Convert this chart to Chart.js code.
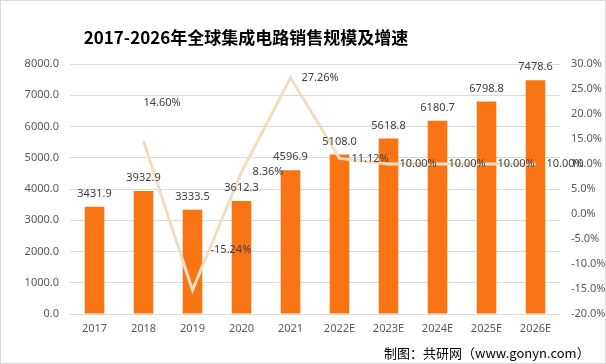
<!DOCTYPE html>
<html>
<head>
<meta charset="utf-8">
<script src="https://cdn.jsdelivr.net/npm/chart.js@4/dist/chart.umd.min.js"></script>
<style>
  html, body { margin: 0; padding: 0; background: #fff; }
  #wrap { position: relative; width: 606px; height: 364px; box-sizing: border-box; border: 1px solid #d9d9d9; }
  #myChart { position: absolute; left: 0; top: 0; }
  #title { position: absolute; left: 0; top: 23px; width: 490px; text-align: center;
    font: bold 17px "Noto Sans CJK SC", sans-serif; color: #000; }
  #source { position: absolute; left: 383px; top: 342px;
    font: 13px "Noto Sans CJK SC", sans-serif; color: #000; }
</style>
</head>
<body>
<div id="wrap">
  <canvas id="myChart" width="606" height="364"></canvas>
  <div id="title">2017-2026年全球集成电路销售规模及增速</div>
  <div id="source">制图：共研网（www.gonyn.com）</div>
</div>
<script>
// data set
var years = ["2017", "2018", "2019", "2020", "2021", "2022E", "2023E", "2024E", "2025E", "2026E"];
var sales = [3431.9, 3932.9, 3333.5, 3612.3, 4596.9, 5108.0, 5618.8, 6180.7, 6798.8, 7478.6];
var growth = [null, 14.60, -15.24, 8.36, 27.26, 11.12, 10.00, 10.00, 10.00, 10.00];

// growth label nudges (x, y) relative to the point
const growthOffsets = [[0, 0], [0, -38], [18, -40], [11, 0], [11, 0], [12, 0], [11, 0], [11, 0], [11, 0], [11, 0]];

const labelPlugin = {
  id: "labels",
  afterDatasetsDraw(chart) {
    const ctx = chart.ctx;
    ctx.save();
    ctx.font = "11px 'Noto Sans', sans-serif";
    ctx.fillStyle = "#404040";
    ctx.textBaseline = "middle";

    const bars = chart.getDatasetMeta(1).data;
    ctx.textAlign = "center";
    bars.forEach((bar, i) => {
      ctx.fillText(sales[i].toFixed(1), bar.x, bar.y - 13);
    });

    const pts = chart.getDatasetMeta(0).data;
    ctx.textAlign = "left";
    pts.forEach((pt, i) => {
      if (growth[i] === null) return;
      const off = growthOffsets[i];
      ctx.fillText(growth[i].toFixed(2) + "%", pt.x + off[0], pt.y + off[1]);
    });
    ctx.restore();
  }
};

new Chart("myChart", {
  type: "bar",
  data: {
    labels: years,
    datasets: [{
      type: "line",
      data: growth,
      yAxisID: "y1",
      borderColor: "#eedfc4",
      borderWidth: 3,
      pointRadius: 0,
      tension: 0,
      fill: false,
      order: 0
    }, {
      type: "bar",
      data: sales,
      yAxisID: "y",
      backgroundColor: "#f97514",
      categoryPercentage: 1,
      barPercentage: 0.4,
      order: 1
    }]
  },
  options: {
    responsive: false,
    animation: false,
    layout: { padding: { top: 63, left: 0, right: 0, bottom: 0 } },
    plugins: {
      legend: { display: false },
      tooltip: { enabled: false }
    },
    scales: {
      x: {
        grid: { display: false, drawTicks: false },
        border: { display: false },
        ticks: { color: "#595959", font: { size: 11, family: "'Noto Sans', sans-serif" }, padding: 8 },
        afterFit: s => { s.height = 51; }
      },
      y: {
        position: "left",
        min: 0, max: 8000,
        ticks: {
          stepSize: 1000,
          color: "#595959",
          font: { size: 11, family: "'Noto Sans', sans-serif" },
          padding: 11,
          callback: v => v.toFixed(1)
        },
        grid: { color: "#d9d9d9", drawTicks: false },
        border: { display: false },
        afterFit: s => { s.width = 69; }
      },
      y1: {
        position: "right",
        min: -20, max: 30,
        ticks: {
          stepSize: 5,
          color: "#595959",
          font: { size: 11, family: "'Noto Sans', sans-serif" },
          padding: 11,
          callback: v => v.toFixed(1) + "%"
        },
        grid: { display: false, drawTicks: false },
        border: { display: false },
        afterFit: s => { s.width = 47; }
      }
    }
  },
  plugins: [labelPlugin]
});
</script>
</body>
</html>
